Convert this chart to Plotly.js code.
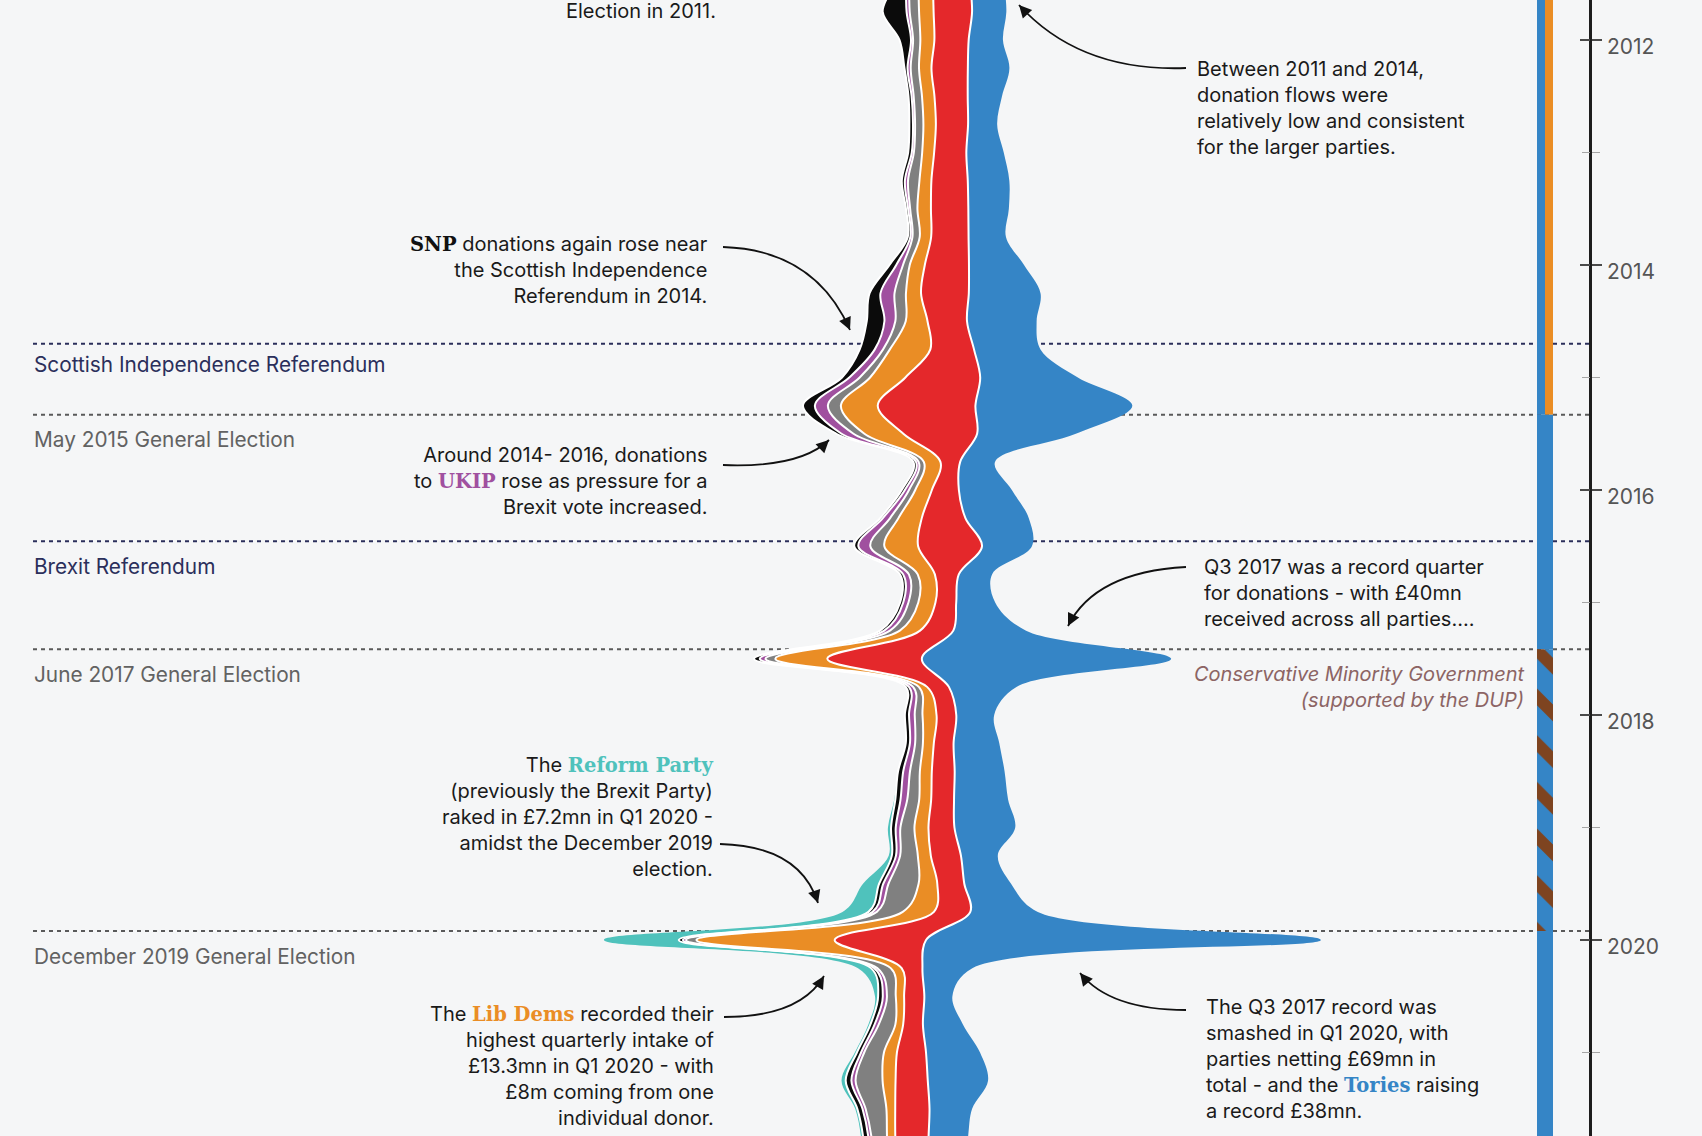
<!DOCTYPE html>
<html><head><meta charset="utf-8">
<script src="https://cdn.plot.ly/plotly-3.0.1.min.js"></script>
<style>html,body{margin:0;padding:0;background:#f5f6f7;} #chart{width:1702px;height:1136px;}</style>
</head><body><div id="chart"></div>
<script>
// ---------- DATA (quarterly donations, £mn) ----------
const quarterLabels = ['2011 Q2','2011 Q3','2011 Q4','2012 Q1','2012 Q2','2012 Q3','2012 Q4','2013 Q1','2013 Q2','2013 Q3','2013 Q4',
 '2014 Q1','2014 Q2','2014 Q3','2014 Q4','2015 Q1','2015 Q2','2015 Q3','2015 Q4','2016 Q1','2016 Q2','2016 Q3','2016 Q4',
 '2017 Q1','2017 Q2','2017 Q3','2017 Q4','2018 Q1','2018 Q2','2018 Q3','2018 Q4','2019 Q1','2019 Q2','2019 Q3','2019 Q4',
 '2020 Q1','2020 Q2','2020 Q3','2020 Q4','2021 Q1','2021 Q2','2021 Q3','2021 Q4','2022 Q1'];
const reform       = [0,0,0,0,0,0,0,0,0,0,0, 0,0,0,0,0,0,0,0,0,0,0,0, 0,0,0,0,0,0,0,0.1,0.3,0.3,1.55,2.5, 7.2,1.25,0.3,0.2,0.2,0.4,0.2,0.2,0.2];
const snp          = [2.0,1.3,2.3,1.1,0.3,0.3,0.35,0.35,0.3,0.2,0.25, 0.65,1.05,1.7,1.45,0.7,1.15,0.5,0.25,0.3,0.25,0.4,0.3, 0.3,0.4,0.55,0.3,0.4,0.4,0.5,0.5,0.45,0.4,0.4,0.4, 0.4,0.3,0.45,0.4,0.4,0.55,0.5,0.5,0.5];
const ukip         = [0.3,0.3,0.3,0.2,0.3,0.2,0.2,0.2,0.3,0.2,0.2, 0.65,1.35,1.05,0.8,1.0,1.25,1.15,0.25,0.4,0.7,1.15,0.55, 0.5,0.55,0.55,0.4,0.55,0.5,0.65,0.65,0.45,0.4,0.5,0.4, 0.3,0.3,0.4,0.4,0.3,0.4,0.3,0.3,0.3];
const others       = [0.9,0.9,0.9,0.7,0.8,0.8,0.8,0.8,1.1,0.7,0.7, 0.65,1.1,1.0,0.65,1.0,1.25,1.05,0.5,0.6,0.8,1.35,0.85, 0.95,0.95,0.95,0.55,0.75,0.75,0.95,1.15,1.35,1.7,2.9,2.5, 1.0,1.3,0.85,1.6,1.9,2.6,2.0,1.5,1.5];
const libDems      = [1.4,1.4,1.4,1.35,1.2,1.2,1.2,1.15,1.15,1.3,1.1, 1.45,1.45,2.1,3.9,3.4,3.55,3.75,1.6,1.6,2.25,3.25,1.65, 1.65,1.95,5.0,0.8,1.35,1.05,1.15,1.15,1.35,1.25,1.8,3.0, 13.3,1.05,0.8,0.75,1.25,1.25,0.85,0.8,0.8];
const labour       = [3.5,3.6,3.7,3.3,3.5,3.2,3.1,3.1,3.5,3.6,3.6, 4.25,4.6,3.8,4.2,7.2,9.4,7.1,1.9,2.6,4.2,6.15,2.3, 2.0,3.2,9.1,2.1,1.9,1.9,2.2,2.2,2.5,2.9,2.6,3.5, 8.8,2.0,1.95,1.9,2.8,3.1,3.3,3.2,3.0];
const conservative = [3.5,3.3,3.3,3.3,4.0,3.3,2.8,3.6,4.0,3.9,3.6, 5.3,6.9,6.7,6.4,9.4,15.1,9.5,3.35,5.1,6.1,4.8,3.2, 3.75,7.0,24.0,6.5,3.65,4.4,4.8,5.2,5.85,3.55,4.5,6.5, 38.0,4.8,2.7,3.85,5.2,5.8,4.1,3.8,3.5];

const partyNames  = ['Reform Party','SNP','UKIP','Others','Lib Dems','Labour','Conservatives'];
const partyColors = ['#4fc2bc','#0b0b0b','#a0509f','#808080','#ea8d25','#e4282b','#3585c6'];

// events (decimal year)
const eventNames = ['Scottish Independence Referendum','May 2015 General Election','Brexit Referendum','June 2017 General Election','December 2019 General Election'];
const eventDates = [2014.70, 2015.33, 2016.455, 2017.415, 2019.92];

// government periods
const govStart  = [2011.0, 2015.33, 2017.415, 2019.92];
const govEnd    = [2015.33, 2017.415, 2019.92, 2022.2];
const govKind   = ['coalition','majority','minority','majority'];

const yearTicks = [2012,2014,2016,2018,2020];
const minorTicks = [2013,2015,2017,2019,2021];

// ---------- LAYOUT CONSTANTS ----------
const W = 1702, H = 1136;
const PX_PER_MN = 10.39;
const BOUND_PX = 957;          // where the mean Labour/Conservative boundary sits
const Y_TOP = 2011.6444, Y_BOTTOM = 2021.7422;

// ---------- STACK: streamgraph "wiggle" offset (as d3.stackOffsetWiggle, ascending order) ----------
const t = quarterLabels.map(s => { const [y,q] = s.split(' Q'); return +y + (+q - 1)/4; });
const series = [reform, snp, ukip, others, libDems, labour, conservative];
const m = t.length, n = series.length;
const base = new Array(m).fill(0);
let g = 0;
for (let j = 1; j < m; j++) {
  let s1 = 0, s2 = 0;
  for (let i = 0; i < n; i++) {
    const a = series[i][j], b = series[i][j-1];
    let s3 = (a - b) / 2;
    for (let k = 0; k < i; k++) s3 += series[k][j] - series[k][j-1];
    s1 += a; s2 += s3 * a;
  }
  base[j-1] = g;
  if (s1) g -= s2 / s1;
}
base[m-1] = g;
const cum = [base.slice()];
for (let i = 0; i < n; i++) cum.push(cum[i].map((v, j) => v + series[i][j]));
// centre: mean Labour/Conservative boundary over the visible quarters -> 0
let mb = 0, cnt = 0;
for (let j = 0; j < m; j++) if (t[j] >= Y_TOP && t[j] <= Y_BOTTOM) { mb += cum[n-1][j]; cnt++; }
mb /= cnt;
for (let i = 0; i <= n; i++) cum[i] = cum[i].map(v => v - mb);

const traces = [];
for (let i = 0; i <= n; i++) {
  const edge = (i === 0 || i === n);
  traces.push({
    type: 'scatter', mode: 'lines', x: cum[i], y: t,
    line: {shape: 'spline', smoothing: 1, color: edge ? 'rgba(0,0,0,0)' : '#ffffff', width: edge ? 0 : 2},
    fill: i === 0 ? 'none' : 'tonextx',
    fillcolor: i === 0 ? undefined : partyColors[i-1],
    name: i === 0 ? '' : partyNames[i-1],
    hoverinfo: 'skip', showlegend: false
  });
}

// government bar (pixel-space x axis x2, same time axis)
const govBlue = '#3585c6', govOrange = '#ea8d25', dupBrown = '#7e4420';
govKind.forEach((k, i) => {
  const common = {type: 'bar', xaxis: 'x2', yaxis: 'y2', base: [govStart[i]], y: [govEnd[i] - govStart[i]],
    hoverinfo: 'skip', showlegend: false, orientation: 'v'};
  if (k === 'coalition') {
    traces.push(Object.assign({}, common, {x: [1541], width: [8], marker: {color: govBlue, line: {width: 0}}}));
    traces.push(Object.assign({}, common, {x: [1549], width: [8], marker: {color: govOrange, line: {width: 0}}}));
  } else if (k === 'minority') {
    traces.push(Object.assign({}, common, {x: [1545], width: [16], marker: {color: govBlue, line: {width: 0},
      pattern: {shape: '\\', fgcolor: dupBrown, bgcolor: govBlue, size: 33, solidity: 0.36, fillmode: 'replace'}}}));
  } else {
    traces.push(Object.assign({}, common, {x: [1545], width: [16], marker: {color: govBlue, line: {width: 0}}}));
  }
});

// ---------- SHAPES & ANNOTATIONS ----------
const px = x => x / W, py = y => 1 - y / H;
const shapes = [];
const annotations = [];
const navy = '#2b2f5b', grey = '#626262';
const sans = 'Inter, Roboto, sans-serif';
const labelShift = [-21, -25, -25, -25, -25];
eventDates.forEach((d, i) => {
  const ref = eventNames[i].indexOf('Referendum') >= 0;
  shapes.push({type: 'line', xref: 'paper', yref: 'y', x0: px(33), x1: px(1590), y0: d, y1: d, layer: 'below',
    line: {color: ref ? navy : '#5a5a5a', width: 2, dash: '4px,4px'}});
  annotations.push({xref: 'paper', yref: 'y', x: px(32), y: d, yshift: labelShift[i], xanchor: 'left', yanchor: 'middle',
    text: eventNames[i], showarrow: false, font: {family: sans, size: 20.8, color: ref ? navy : grey}});
});

// year labels (sit slightly below their tick marks, as in the original)
yearTicks.forEach(yr => {
  annotations.push({xref: 'paper', yref: 'y', x: px(1605), y: yr, yshift: -6, xanchor: 'left', yanchor: 'middle',
    text: String(yr), showarrow: false, font: {family: sans, size: 21, color: '#555555'}});
});

function curveArrow(x0, y0, cx, cy, x1, y1) {
  shapes.push({type: 'path', xref: 'paper', yref: 'paper',
    path: `M ${px(x0)},${py(y0)} Q ${px(cx)},${py(cy)} ${px(x1)},${py(y1)}`,
    line: {color: '#111111', width: 1.8}});
  const dx = cx - x1, dy = cy - y1, L = Math.hypot(dx, dy);
  annotations.push({xref: 'paper', yref: 'paper', x: px(x1), y: py(y1), axref: 'pixel', ayref: 'pixel',
    ax: dx / L * 12, ay: dy / L * 12, text: '', showarrow: true, arrowhead: 2, arrowsize: 1.4,
    arrowwidth: 1.8, arrowcolor: '#111111', standoff: 0});
}
curveArrow(1186, 68, 1080, 72, 1019, 5);
curveArrow(723, 247, 815, 250, 850, 330);
curveArrow(723, 465, 800, 468, 829, 440);
curveArrow(1186, 567, 1095, 572, 1068, 626);
curveArrow(720, 844, 800, 846, 818, 903);
curveArrow(724, 1017, 800, 1017, 824, 976);
curveArrow(1186, 1010, 1110, 1010, 1080, 973);

const sp = (txt, col) => `<b><span style="font-family:DejaVu Serif;color:${col};font-size:19.5px">${txt}</span></b>`;
function note(x, y, anchor, text, color, italic) {
  annotations.push({xref: 'paper', yref: 'paper', x: px(x), y: py(y), xanchor: anchor, yanchor: 'middle',
    align: anchor, text: italic ? `<i>${text}</i>` : text, showarrow: false,
    font: {family: sans, size: 20, color: color || '#1a1a1a'}});
}
note(718, 11, 'right', 'Election in 2011.');
note(1195, 108, 'left', 'Between 2011 and 2014,<br>donation flows were<br>relatively low and consistent<br>for the larger parties.');
note(710, 270, 'right', sp('SNP', '#111') + ' donations again rose near<br>the Scottish Independence<br>Referendum in 2014.');
note(710, 481, 'right', 'Around 2014- 2016, donations<br>to ' + sp('UKIP', partyColors[2]) + ' rose as pressure for a<br>Brexit vote increased.');
note(1202, 593, 'left', 'Q3 2017 was a record quarter<br>for donations - with £40mn<br>received across all parties....');
note(1527, 687, 'right', 'Conservative Minority Government<br>(supported by the DUP)', '#8c6464', true);
note(716, 817, 'right', 'The ' + sp('Reform Party', partyColors[0]) + '<br>(previously the Brexit Party)<br>raked in £7.2mn in Q1 2020 -<br>amidst the December 2019<br>election.');
note(716, 1066, 'right', 'The ' + sp('Lib Dems', partyColors[4]) + ' recorded their<br>highest quarterly intake of<br>£13.3mn in Q1 2020 - with<br>£8m coming from one<br>individual donor.');
note(1204, 1059, 'left', 'The Q3 2017 record was<br>smashed in Q1 2020, with<br>parties netting £69mn in<br>total - and the ' + sp('Tories', partyColors[6]) + ' raising<br>a record £38mn.');

const yCommon = {range: [Y_BOTTOM, Y_TOP], anchor: 'free', position: 1590 / W, side: 'right',
  showgrid: false, zeroline: false, fixedrange: true, tickmode: 'array', tickvals: yearTicks, showticklabels: false};

const layout = {
  width: W, height: H, margin: {l: 0, r: 0, t: 0, b: 0},
  paper_bgcolor: '#f5f6f7', plot_bgcolor: '#f5f6f7',
  showlegend: false, hovermode: false, barmode: 'overlay',
  xaxis: {range: [-BOUND_PX / PX_PER_MN, (W - BOUND_PX) / PX_PER_MN], visible: false, fixedrange: true},
  xaxis2: {range: [0, W], overlaying: 'x', visible: false, fixedrange: true},
  yaxis: Object.assign({}, yCommon, {
    showline: true, linecolor: '#1d1d1d', linewidth: 2.5,
    ticks: 'outside', ticklen: 10, tickwidth: 2, tickcolor: '#4a4a4a',
    minor: {ticks: 'outside', tickmode: 'array', tickvals: minorTicks, ticklen: 8, tickwidth: 1.5, tickcolor: '#a5a5a5'}
  }),
  yaxis2: Object.assign({}, yCommon, {
    overlaying: 'y', showline: false,
    ticks: 'inside', ticklen: 10, tickwidth: 2, tickcolor: '#4a4a4a',
    minor: {ticks: 'inside', tickmode: 'array', tickvals: minorTicks, ticklen: 8, tickwidth: 1.5, tickcolor: '#a5a5a5'}
  }),
  shapes: shapes, annotations: annotations
};

Plotly.newPlot('chart', traces, layout, {displayModeBar: false, staticPlot: true});
</script></body></html>
